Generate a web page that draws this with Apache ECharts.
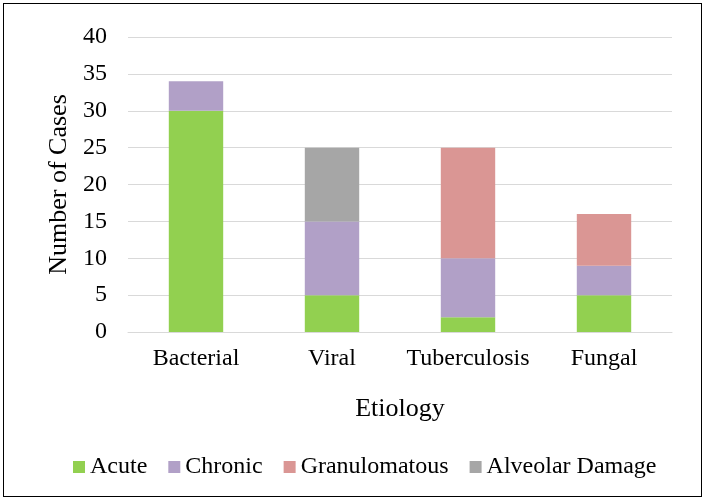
<!DOCTYPE html>
<html>
<head>
<meta charset="utf-8">
<script src="https://cdn.jsdelivr.net/npm/echarts@6/dist/echarts.min.js"></script>
<style>
  html, body { margin: 0; padding: 0; background: #fff; }
  #chart { width: 705px; height: 499px; box-sizing: border-box; }
  .frame { position: absolute; left: 3px; top: 3px; width: 697px; height: 492px; border: 1.5px solid #000; pointer-events: none; }
</style>
</head>
<body>
<div id="chart"></div>
<div class="frame"></div>
<script>
const categories = ['Bacterial', 'Viral', 'Tuberculosis', 'Fungal'];
const acute = [30, 5, 2, 5];
const chronic = [4, 10, 8, 4];
const granulomatous = [0, 0, 15, 7];
const alveolarDamage = [0, 10, 0, 0];

const font = '"Liberation Serif", "Times New Roman", serif';
const chart = echarts.init(document.getElementById('chart'));

const makeSeries = (name, data, color) => ({
  name,
  type: 'bar',
  stack: 'total',
  barWidth: '40%',
  data,
  itemStyle: { color },
});

chart.setOption({
  animation: false,
  textStyle: { fontFamily: font },
  grid: { left: 128, right: 33, top: 37, bottom: 167, containLabel: false },
  legend: {
    bottom: 15,
    left: 68,
    icon: 'rect',
    itemWidth: 12,
    itemHeight: 12,
    itemGap: 21,
    itemTextGap: 6,
    textStyle: { fontFamily: font, fontSize: 24, color: '#000' },
    data: ['Acute', 'Chronic', 'Granulomatous', 'Alveolar Damage'],
  },
  xAxis: {
    type: 'category',
    data: categories,
    name: 'Etiology',
    nameLocation: 'middle',
    nameGap: 64,
    nameTextStyle: { fontFamily: font, fontSize: 26, color: '#000' },
    axisLine: { lineStyle: { color: '#d9d9d9', width: 1 } },
    axisTick: { show: false },
    axisLabel: { fontFamily: font, fontSize: 24, color: '#000', margin: 15, interval: 0 },
  },
  yAxis: {
    type: 'value',
    min: 0,
    max: 40,
    interval: 5,
    name: 'Number of Cases',
    nameLocation: 'middle',
    nameGap: 54,
    nameTextStyle: { fontFamily: font, fontSize: 26, color: '#000' },
    axisLine: { show: false },
    axisTick: { show: false },
    axisLabel: { fontFamily: font, fontSize: 24, color: '#000', margin: 21 },
    splitLine: { lineStyle: { color: '#d9d9d9', width: 1 } },
  },
  series: [
    makeSeries('Acute', acute, '#92D050'),
    makeSeries('Chronic', chronic, '#B1A0C7'),
    makeSeries('Granulomatous', granulomatous, '#DA9694'),
    makeSeries('Alveolar Damage', alveolarDamage, '#A6A6A6'),
  ],
});
</script>
</body>
</html>
